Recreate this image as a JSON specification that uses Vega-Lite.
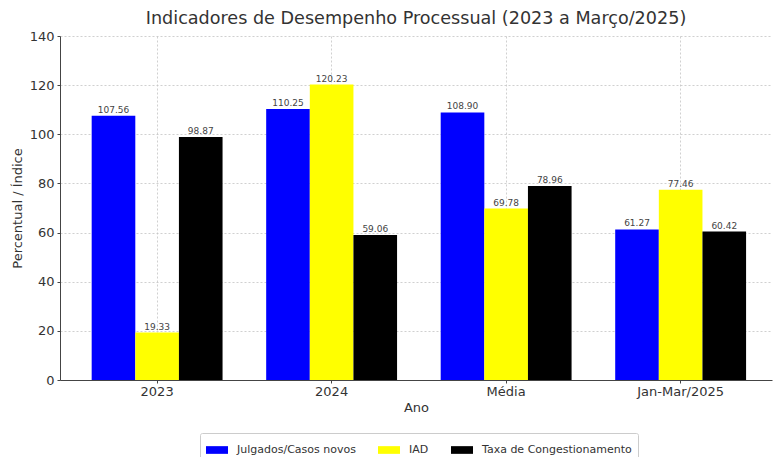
{
  "$schema": "https://vega.github.io/schema/vega-lite/v6.json",
  "width": 712,
  "height": 344,
  "autosize": {"type": "none"},
  "padding": {"left": 60, "top": 36, "right": 1, "bottom": 77},
  "background": "white",
  "title": {
    "text": "Indicadores de Desempenho Processual (2023 a Março/2025)",
    "font": "DejaVu Sans",
    "fontSize": 17.6,
    "fontWeight": "normal",
    "color": "#333333",
    "anchor": "middle",
    "offset": 2
  },
  "config": {
    "view": {"stroke": null},
    "font": "DejaVu Sans",
    "axis": {
      "labelFont": "DejaVu Sans",
      "titleFont": "DejaVu Sans",
      "labelFontSize": 13,
      "titleFontSize": 13,
      "labelColor": "#333333",
      "titleColor": "#333333",
      "titleFontWeight": "normal",
      "domainColor": "#444444",
      "tickColor": "#444444",
      "tickSize": 3,
      "gridColor": "#c4c4c4",
      "gridDash": [2, 2],
      "gridOpacity": 0.8,
      "zindex": 1
    }
  },
  "data": {
    "values": [
      {"ano": "2023", "indicador": "Julgados/Casos novos", "valor": 107.56},
      {"ano": "2023", "indicador": "IAD", "valor": 19.33},
      {"ano": "2023", "indicador": "Taxa de Congestionamento", "valor": 98.87},
      {"ano": "2024", "indicador": "Julgados/Casos novos", "valor": 110.25},
      {"ano": "2024", "indicador": "IAD", "valor": 120.23},
      {"ano": "2024", "indicador": "Taxa de Congestionamento", "valor": 59.06},
      {"ano": "Média", "indicador": "Julgados/Casos novos", "valor": 108.90},
      {"ano": "Média", "indicador": "IAD", "valor": 69.78},
      {"ano": "Média", "indicador": "Taxa de Congestionamento", "valor": 78.96},
      {"ano": "Jan-Mar/2025", "indicador": "Julgados/Casos novos", "valor": 61.27},
      {"ano": "Jan-Mar/2025", "indicador": "IAD", "valor": 77.46},
      {"ano": "Jan-Mar/2025", "indicador": "Taxa de Congestionamento", "valor": 60.42}
    ]
  },
  "encoding": {
    "x": {
      "field": "ano",
      "type": "nominal",
      "sort": ["2023", "2024", "Média", "Jan-Mar/2025"],
      "scale": {"paddingInner": 0.25, "paddingOuter": 0.165, "align": 0.55},
      "axis": {"title": "Ano", "labelAngle": 0, "grid": true, "bandPosition": 0.5, "labelPadding": 2, "titlePadding": 3}
    },
    "xOffset": {
      "field": "indicador",
      "type": "nominal",
      "sort": ["Julgados/Casos novos", "IAD", "Taxa de Congestionamento"],
      "scale": {"paddingInner": 0, "paddingOuter": 0}
    },
    "y": {
      "field": "valor",
      "type": "quantitative",
      "scale": {"domain": [0, 140], "nice": false},
      "axis": {"title": "Percentual / Índice", "values": [0, 20, 40, 60, 80, 100, 120, 140], "grid": true, "titlePadding": 5, "labelPadding": 3}
    }
  },
  "layer": [
    {
      "mark": {"type": "bar"},
      "encoding": {
        "color": {
          "field": "indicador",
          "type": "nominal",
          "sort": ["Julgados/Casos novos", "IAD", "Taxa de Congestionamento"],
          "scale": {
            "domain": ["Julgados/Casos novos", "IAD", "Taxa de Congestionamento"],
            "range": ["#0000ff", "#ffff00", "#000000"]
          },
          "legend": {
            "title": null,
            "orient": "none",
            "legendX": 140,
            "legendY": 397,
            "direction": "horizontal",
            "strokeColor": "#cccccc",
            "padding": 6,
            "cornerRadius": 2,
            "symbolType": "M-1,-0.35H1V0.35H-1Z",
            "symbolSize": 484,
            "symbolStrokeWidth": 0,
            "symbolOpacity": 1,
            "labelFont": "DejaVu Sans",
            "labelFontSize": 11,
            "labelColor": "#333333",
            "columnPadding": 22,
            "labelOffset": 9
          }
        }
      }
    },
    {
      "mark": {"type": "text", "dy": -6, "fontSize": 9, "color": "#444444", "font": "DejaVu Sans"},
      "encoding": {
        "text": {"field": "valor", "type": "quantitative", "format": ".2f"}
      }
    }
  ]
}
